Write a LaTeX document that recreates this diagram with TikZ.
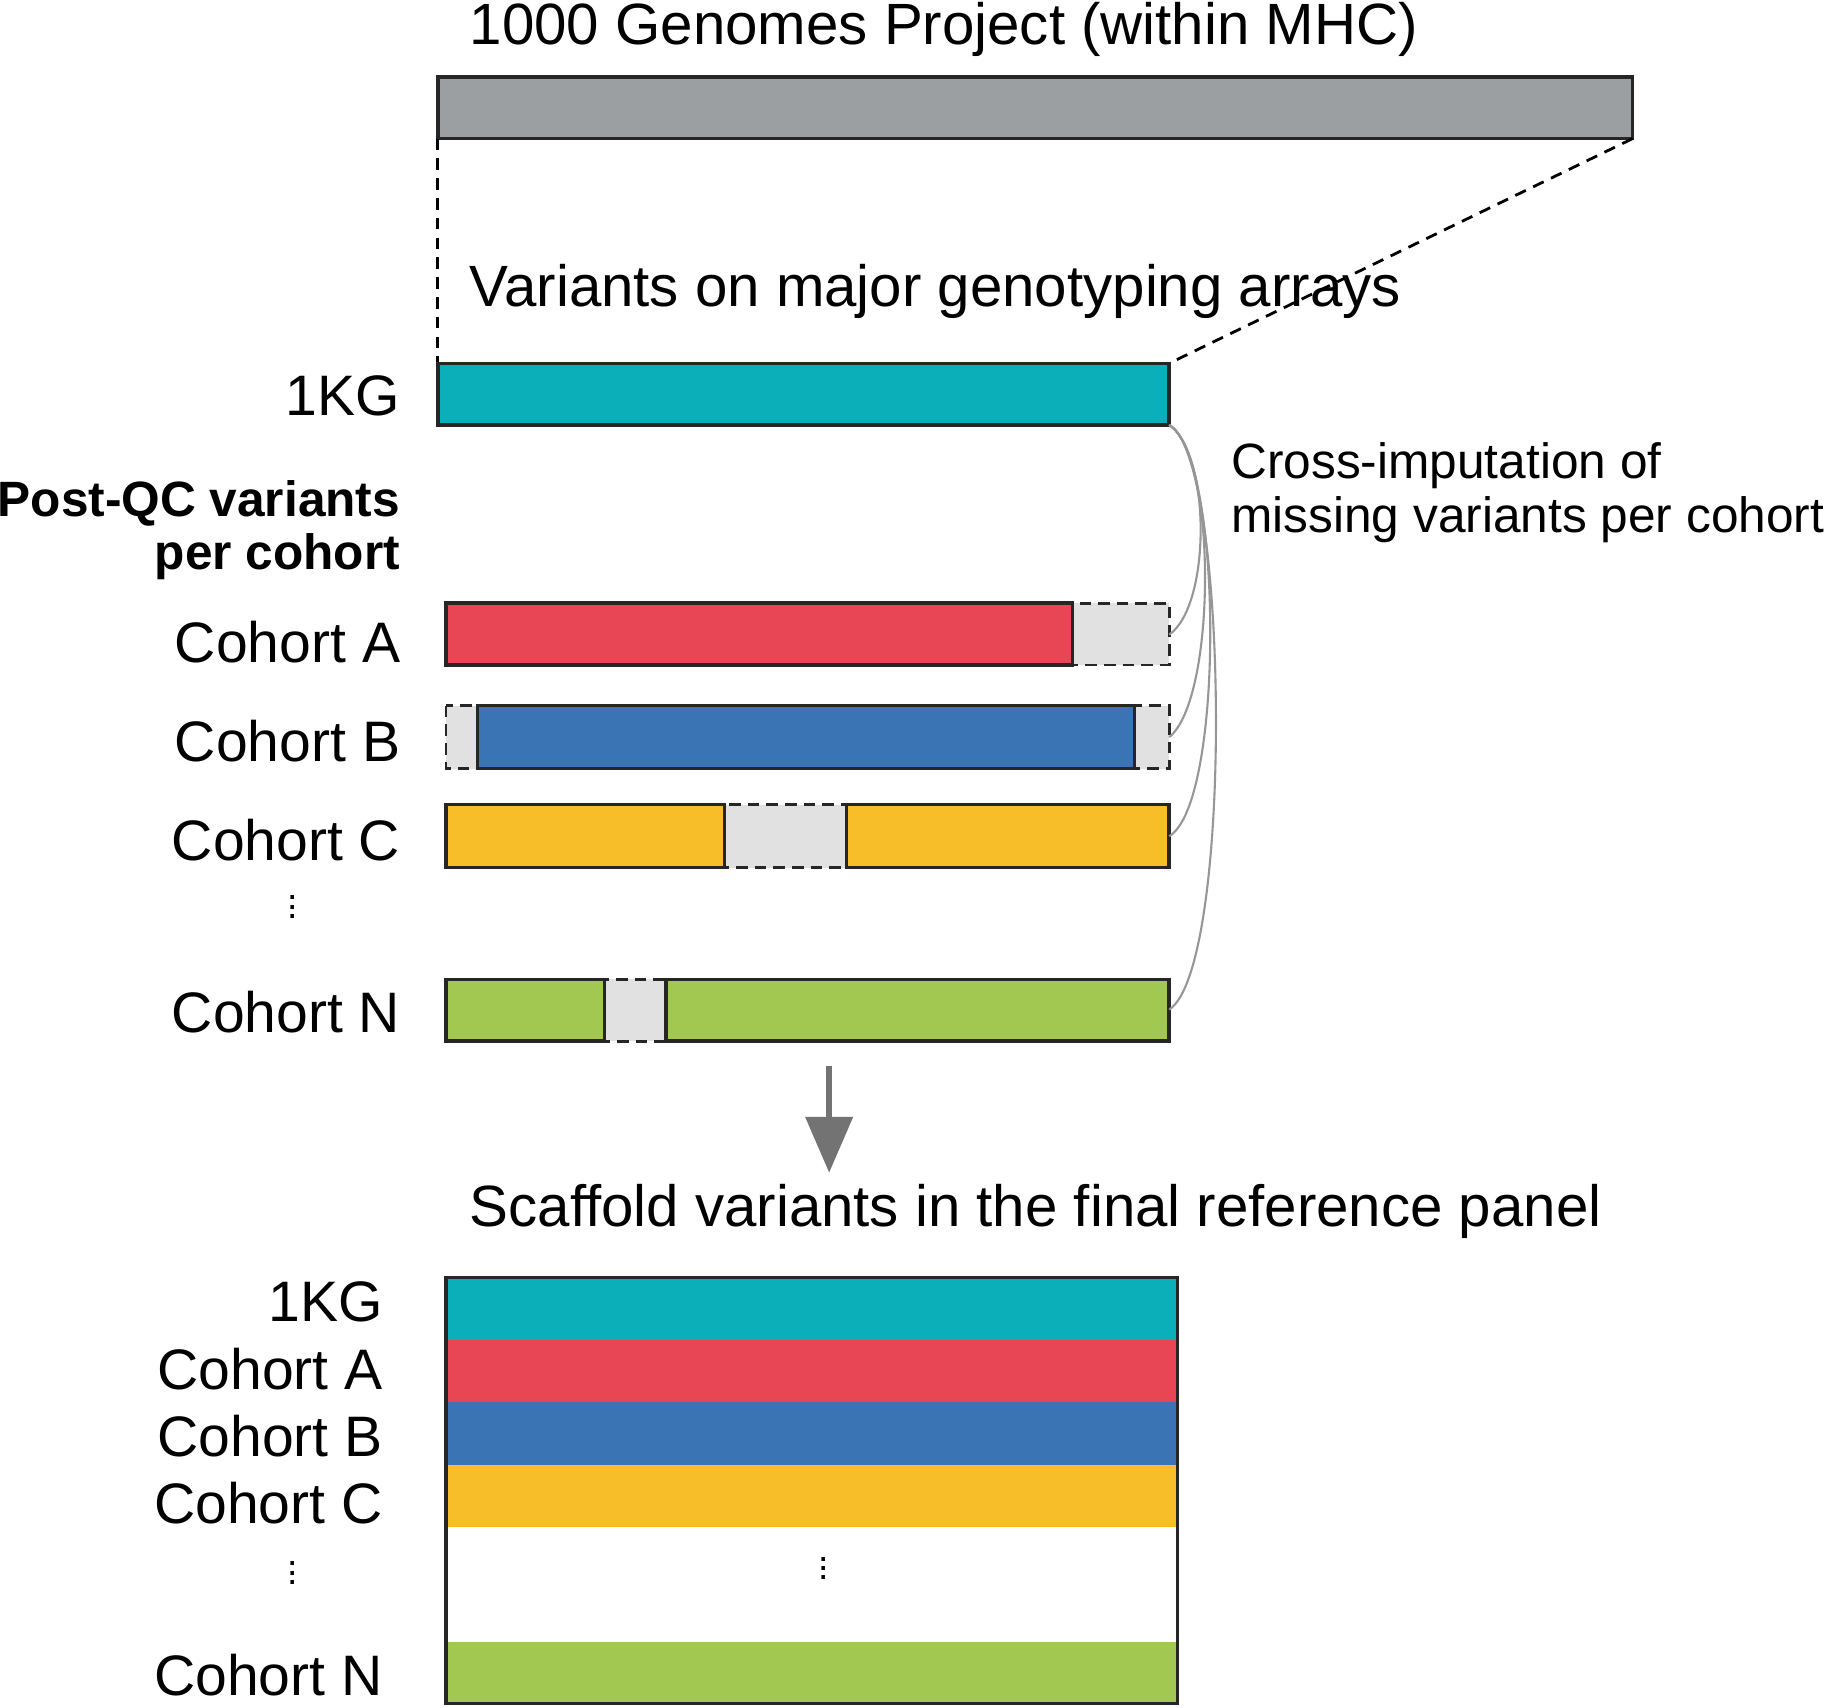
\documentclass[tikz,border=0pt]{standalone}
\usepackage{fontspec}
\setmainfont{Liberation Sans}
\usetikzlibrary{arrows.meta}
\definecolor{cgray}{RGB}{156,159,162}
\definecolor{cteal}{RGB}{10,175,185}
\definecolor{cred}{RGB}{232,69,85}
\definecolor{cblue}{RGB}{59,116,181}
\definecolor{corange}{RGB}{247,190,42}
\definecolor{cgreen}{RGB}{162,200,82}
\definecolor{cmiss}{RGB}{225,225,225}
\definecolor{ccurve}{RGB}{150,150,150}
\tikzset{
 bar/.style={draw=black!85,line width=1.5pt},
 miss/.style={draw=black!85,fill=cmiss,line width=1.2pt,dash pattern=on 5pt off 3pt},
 lab/.style={anchor=east,inner sep=0pt,font=\fontsize{24.5}{28}\selectfont},
 ttl/.style={anchor=west,inner sep=0pt,font=\fontsize{25}{29}\selectfont},
 dotsn/.style={inner sep=0pt,font=\fontsize{16}{18}\selectfont},
 curve/.style={draw=ccurve,line width=0.9pt},
 zoomline/.style={line width=1.2pt,dash pattern=on 5pt off 3.5pt}
}
\begin{document}
\begin{tikzpicture}[x=0.5pt,y=-0.5pt]
\useasboundingbox (0,0) rectangle (1568,1466);
% top
\node[ttl] (t1) at (403,25) {1000 Genomes Project (within MHC)};
\draw[bar,fill=cgray] (376,66) rectangle (1402,119);
\coordinate (gl) at (376,119); \coordinate (gr) at (1402,119);
\coordinate (kl) at (376,312); \coordinate (kr) at (1004,312);
\draw[zoomline] (gl) -- (kl);
\draw[zoomline] (gr) -- (kr);
\node[ttl] (t2) at (403,250) {Variants on major genotyping arrays};
\draw[bar,fill=cteal] (376,312) rectangle (1004,365);
\node[lab] (l1kg) at (344,340) {1KG};
\node[anchor=east,inner sep=0pt,font=\fontsize{21.3}{24}\selectfont\bfseries] (pqc1) at (344,432) {Post-QC variants};
\node[anchor=east,inner sep=0pt,font=\fontsize{21.3}{24}\selectfont\bfseries] (pqc2) at (344,478) {per cohort};
% cohort A
\draw[miss] (921,518) rectangle (1004,571);
\draw[bar,fill=cred] (383,518) rectangle (921,571);
\node[lab] (la) at (344,551) {Cohort A};
% cohort B
\draw[miss] (383,606) rectangle (1004,660);
\draw[bar,fill=cblue] (410,606) rectangle (974,660);
\node[lab] (lb) at (344,636) {Cohort B};
% cohort C
\draw[miss] (622,691) rectangle (727,745);
\draw[bar,fill=corange] (383,691) rectangle (622,745);
\draw[bar,fill=corange] (727,691) rectangle (1004,745);
\node[lab] (lc) at (344,721) {Cohort C};
\node[dotsn] (d1) at (251,773) {$\vdots$};
% cohort N
\draw[miss] (519,841) rectangle (572,894);
\draw[bar,fill=cgreen] (383,841) rectangle (519,894);
\draw[bar,fill=cgreen] (572,841) rectangle (1004,894);
\node[lab] (ln) at (344,869) {Cohort N};
% curves
\coordinate (src) at (1004,365);
\coordinate (ea) at (1004,545); \coordinate (eb) at (1004,633);
\coordinate (ec) at (1004,718); \coordinate (en) at (1004,867);
\draw[curve] (src) .. controls (1040,390) and (1040,520) .. (ea);
\draw[curve] (src) .. controls (1045,390) and (1045,600) .. (eb);
\draw[curve] (src) .. controls (1050,390) and (1052,690) .. (ec);
\draw[curve] (src) .. controls (1055,390) and (1060,830) .. (en);
\node[anchor=west,inner sep=0pt,font=\fontsize{21.3}{24}\selectfont] (cross1) at (1057,400) {Cross-imputation of};
\node[anchor=west,inner sep=0pt,font=\fontsize{21.3}{24}\selectfont] (cross2) at (1057,446) {missing variants per cohort};
% arrow
\coordinate (a1) at (712,915); \coordinate (a2) at (712,1007);
\draw[draw=black!55,line width=2.5pt,-{Triangle[width=20pt,length=24pt]}] (a1) -- (a2);
\node[ttl] (t3) at (403,1040) {Scaffold variants in the final reference panel};
% panel
\fill[cteal] (383,1097) rectangle (1011,1151);
\fill[cred] (383,1151) rectangle (1011,1204);
\fill[cblue] (383,1204) rectangle (1011,1258);
\fill[corange] (383,1258) rectangle (1011,1311);
\fill[cgreen] (383,1410) rectangle (1011,1463);
\draw[bar] (383,1097) rectangle (1011,1463);
\node[dotsn] (d2) at (707,1341) {$\vdots$};
\node[lab] (p1) at (329,1118) {1KG};
\node[lab] (p2) at (329,1176) {Cohort A};
\node[lab] (p3) at (329,1233) {Cohort B};
\node[lab] (p4) at (329,1291) {Cohort C};
\node[dotsn] (d3) at (251,1345) {$\vdots$};
\node[lab] (p5) at (329,1438) {Cohort N};
\end{tikzpicture}
\end{document}
